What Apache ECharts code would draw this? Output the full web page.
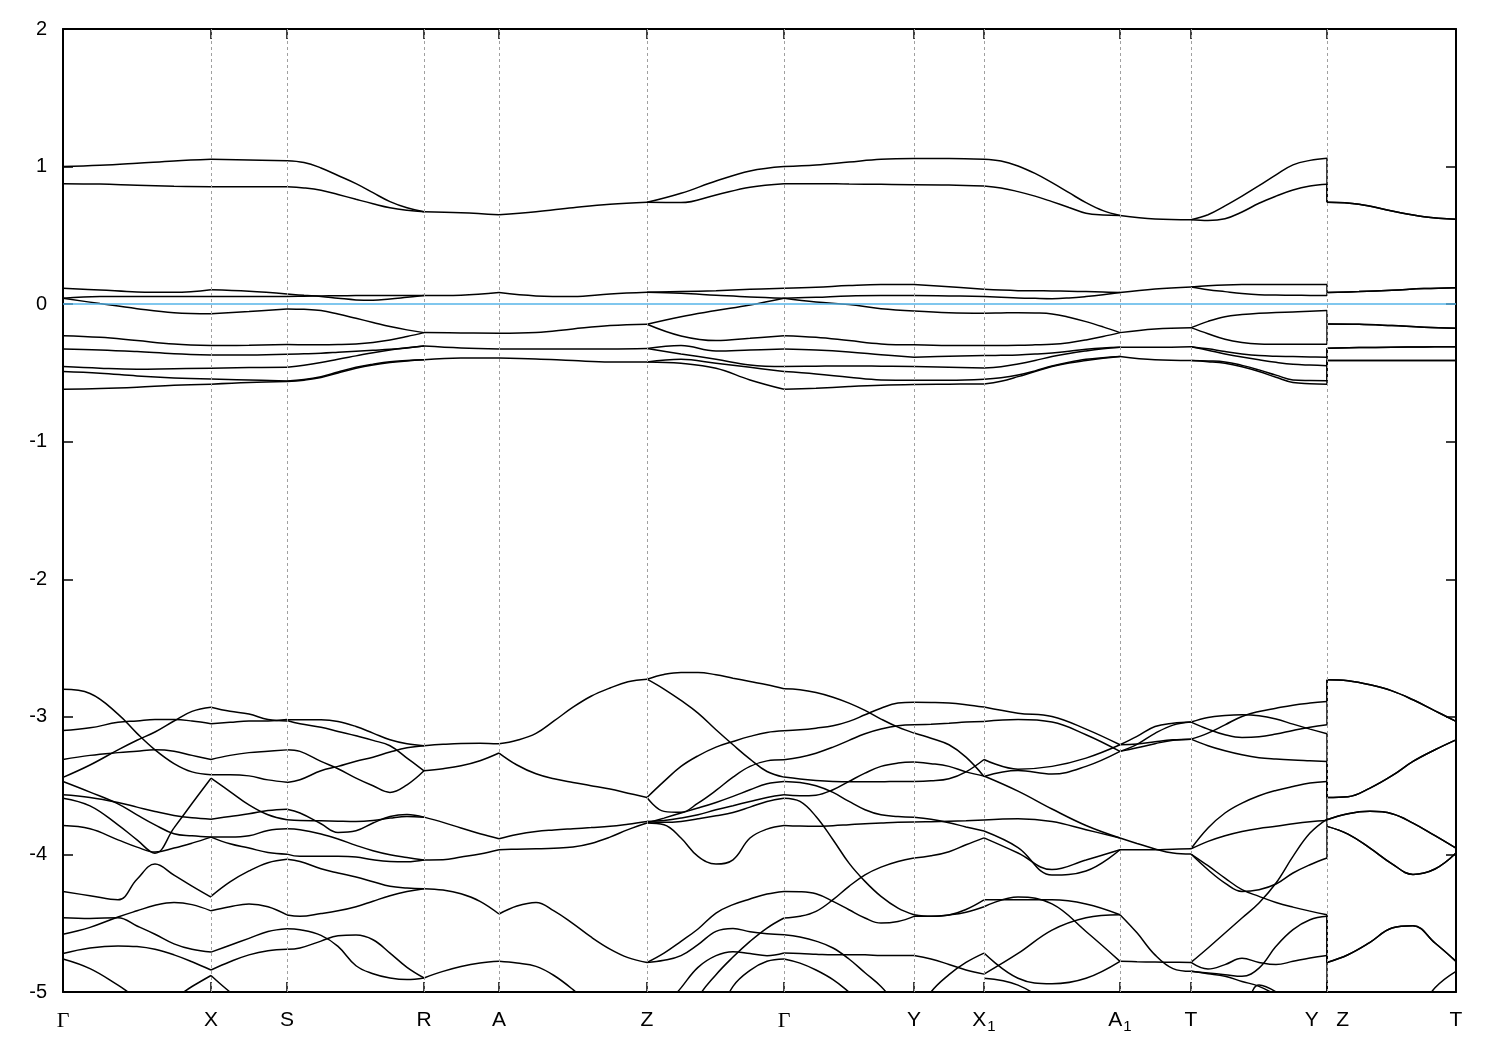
<!DOCTYPE html>
<html><head><meta charset="utf-8">
<script src="https://cdn.jsdelivr.net/npm/echarts@6/dist/echarts.min.js"></script>
<style>html,body{margin:0;padding:0;background:#fff}#c{width:1500px;height:1050px}</style>
</head><body><div id="c"></div>
<script>
// high-symmetry points (k-path distance, arbitrary units)
const tickK = [0,148,224,361,436,584,721,851,921,1057,1128,1264,1393];
const tickText = ['{g|Γ}','{m|X}','{m|S}','{m|R}','{m|A}','{m|Z}','{g|Γ}','{m|Y}','{m|X}{s|1}','{m|A}{s|1}','{m|T}','{m|Y   Z}','{m|T}'];

// ---------- upper bands (conduction + near Fermi level) ----------
const K_GX=[0,37,74,111,148];
const UP_GX=[[1.0,1.009,1.024,1.041,1.053],[0.876,0.873,0.864,0.857,0.854],[0.115,0.103,0.089,0.086,0.105],[0.043,0.055,0.055,0.055,0.055],[0.043,0.004,-0.033,-0.062,-0.069],[-0.229,-0.241,-0.265,-0.289,-0.301],[-0.326,-0.333,-0.345,-0.36,-0.369],[-0.454,-0.466,-0.473,-0.469,-0.466],[-0.49,-0.502,-0.522,-0.536,-0.544],[-0.619,-0.614,-0.604,-0.59,-0.582]];
const K_XS=[148,186,224];
const UP_XS=[[1.053,1.048,1.043],[0.854,0.854,0.854],[0.105,0.094,0.074],[0.055,0.055,0.055],[-0.069,-0.054,-0.035],[-0.301,-0.299,-0.294],[-0.369,-0.369,-0.364],[-0.466,-0.461,-0.459],[-0.544,-0.551,-0.558],[-0.582,-0.57,-0.563]];
const K_SR=[224,241,258,275,293,310,327,344,361];
const UP_SR=[[1.043,1.03,0.99,0.935,0.876,0.81,0.745,0.70,0.672],[0.854,0.845,0.828,0.797,0.762,0.73,0.701,0.683,0.672],[0.074,0.064,0.055,0.043,0.031,0.028,0.038,0.05,0.062],[0.055,0.058,0.06,0.061,0.062,0.062,0.062,0.062,0.062],[-0.035,-0.038,-0.047,-0.072,-0.103,-0.133,-0.163,-0.187,-0.207],[-0.294,-0.295,-0.296,-0.294,-0.289,-0.278,-0.26,-0.235,-0.207],[-0.364,-0.361,-0.357,-0.35,-0.342,-0.335,-0.328,-0.318,-0.304],[-0.459,-0.445,-0.425,-0.4,-0.376,-0.353,-0.333,-0.317,-0.304],[-0.558,-0.548,-0.527,-0.493,-0.459,-0.436,-0.418,-0.41,-0.405],[-0.563,-0.553,-0.534,-0.5,-0.466,-0.442,-0.425,-0.413,-0.405]];
const K_RA=[361,398,436];
const UP_RA=[[0.672,0.665,0.65],[0.062,0.065,0.084],[-0.207,-0.209,-0.212],[-0.304,-0.318,-0.326],[-0.405,-0.391,-0.391]];
const K_AZ=[436,473,510,547,584];
const UP_AZ=[[0.65,0.672,0.701,0.726,0.74],[0.084,0.06,0.055,0.074,0.086],[-0.212,-0.207,-0.18,-0.156,-0.146],[-0.326,-0.326,-0.326,-0.326,-0.323],[-0.391,-0.398,-0.41,-0.42,-0.42]];
const K_ZG=[584,618,653,687,721];
const UP_ZG=[[0.74,0.806,0.895,0.968,1.0],[0.74,0.738,0.794,0.85,0.876],[0.086,0.091,0.098,0.108,0.115],[0.086,0.079,0.065,0.052,0.043],[-0.146,-0.091,-0.047,-0.006,0.043],[-0.146,-0.231,-0.265,-0.248,-0.229],[-0.323,-0.301,-0.34,-0.333,-0.326],[-0.323,-0.362,-0.401,-0.442,-0.454],[-0.42,-0.401,-0.43,-0.459,-0.49],[-0.42,-0.43,-0.466,-0.551,-0.619]];
const K_GY=[721,753,786,818,851];
const UP_GY=[[1.0,1.012,1.033,1.053,1.058],[0.876,0.876,0.873,0.871,0.868],[0.115,0.123,0.135,0.142,0.142],[0.043,0.05,0.06,0.062,0.062],[0.043,0.016,-0.003,-0.033,-0.049],[-0.229,-0.241,-0.265,-0.289,-0.296],[-0.326,-0.333,-0.347,-0.367,-0.386],[-0.454,-0.451,-0.449,-0.451,-0.454],[-0.49,-0.507,-0.531,-0.551,-0.553],[-0.619,-0.611,-0.599,-0.59,-0.585]];
const K_YX1=[851,886,921];
const UP_YX1=[[1.058,1.058,1.053],[0.868,0.866,0.859],[0.142,0.127,0.108],[0.062,0.06,0.055],[-0.049,-0.062,-0.066],[-0.296,-0.301,-0.301],[-0.386,-0.379,-0.374],[-0.454,-0.459,-0.464],[-0.553,-0.553,-0.546],[-0.585,-0.582,-0.58]];
const K_X1A1=[921,938,955,972,989,1006,1023,1040,1057];
const UP_X1A1=[[1.053,1.04,1.004,0.95,0.883,0.81,0.738,0.68,0.645],[0.859,0.845,0.818,0.785,0.745,0.703,0.661,0.648,0.645],[0.108,0.102,0.098,0.097,0.096,0.094,0.091,0.088,0.084],[0.055,0.05,0.045,0.042,0.04,0.045,0.055,0.068,0.084],[-0.066,-0.064,-0.062,-0.064,-0.071,-0.095,-0.127,-0.165,-0.207],[-0.301,-0.3,-0.299,-0.296,-0.292,-0.28,-0.26,-0.235,-0.207],[-0.374,-0.372,-0.369,-0.363,-0.355,-0.343,-0.328,-0.318,-0.313],[-0.464,-0.455,-0.435,-0.41,-0.381,-0.358,-0.34,-0.325,-0.313],[-0.546,-0.535,-0.515,-0.485,-0.449,-0.422,-0.401,-0.389,-0.381],[-0.58,-0.56,-0.527,-0.49,-0.454,-0.428,-0.41,-0.394,-0.381]];
const K_A1T=[1057,1092,1128];
const UP_A1T=[[0.645,0.619,0.614],[0.084,0.11,0.125],[-0.207,-0.18,-0.171],[-0.313,-0.313,-0.309],[-0.381,-0.405,-0.41]];
const K_TY=[1128,1145,1162,1179,1196,1213,1230,1247,1264];
const UP_TY=[[0.614,0.65,0.714,0.785,0.861,0.94,1.012,1.045,1.06],[0.614,0.608,0.621,0.67,0.733,0.785,0.83,0.858,0.871],[0.125,0.134,0.14,0.142,0.142,0.142,0.142,0.142,0.142],[0.125,0.105,0.091,0.078,0.069,0.066,0.065,0.063,0.062],[-0.171,-0.125,-0.091,-0.076,-0.066,-0.06,-0.057,-0.052,-0.047],[-0.171,-0.215,-0.255,-0.278,-0.289,-0.291,-0.292,-0.292,-0.292],[-0.309,-0.325,-0.345,-0.362,-0.374,-0.379,-0.381,-0.384,-0.386],[-0.309,-0.335,-0.362,-0.385,-0.405,-0.423,-0.437,-0.443,-0.447],[-0.41,-0.413,-0.42,-0.445,-0.478,-0.516,-0.551,-0.555,-0.556],[-0.41,-0.418,-0.43,-0.455,-0.49,-0.532,-0.57,-0.578,-0.582]];
const K_ZT=[1264,1296,1329,1361,1393];
const UP_ZT=[[0.74,0.726,0.677,0.636,0.617],[0.74,0.726,0.677,0.636,0.617],[0.084,0.091,0.101,0.113,0.12],[0.084,0.091,0.101,0.113,0.12],[-0.144,-0.146,-0.156,-0.168,-0.175],[-0.144,-0.146,-0.156,-0.168,-0.175],[-0.32,-0.316,-0.313,-0.311,-0.309],[-0.32,-0.316,-0.313,-0.311,-0.309],[-0.41,-0.41,-0.41,-0.41,-0.41],[-0.41,-0.41,-0.41,-0.41,-0.41]];

// ---------- lower bands ----------
const KL_GX=[0,27,55,74,92,111,129,148];
const LO_GX=[[-2.80,-2.83,-2.98,-3.12,-3.24,-3.34,-3.40,-3.42],[-3.10,-3.08,-3.04,-3.03,-3.02,-3.02,-3.03,-3.05],[-3.44,-3.35,-3.24,-3.17,-3.11,-3.03,-2.96,-2.93],[-3.31,-3.28,-3.26,-3.25,-3.24,-3.25,-3.28,-3.31],[-3.47,-3.547,-3.632,-3.712,-3.785,-3.85,-3.865,-3.874],[-3.567,-3.586,-3.622,-3.656,-3.688,-3.717,-3.734,-3.744],[-3.591,-3.647,-3.785,-3.894,-3.991,-3.807,-3.63,-3.446],[-3.79,-3.814,-3.894,-3.947,-3.983,-3.954,-3.918,-3.874],[-4.27,-4.30,-4.33,-4.18,-4.07,-4.15,-4.23,-4.31],[-4.46,-4.465,-4.46,-4.52,-4.58,-4.65,-4.69,-4.71],[-4.58,-4.53,-4.455,-4.41,-4.37,-4.35,-4.365,-4.41],[-4.72,-4.68,-4.665,-4.67,-4.69,-4.73,-4.78,-4.84],[-4.76,-4.83,-4.95,-5.04,-5.08,-5.04,-4.96,-4.88]];
const KL_XS=[148,167,186,205,224];
const LO_XS=[[-3.42,-3.42,-3.429,-3.458,-3.475],[-3.05,-3.04,-3.03,-3.03,-3.02],[-2.93,-2.96,-2.98,-3.02,-3.03],[-3.31,-3.28,-3.26,-3.25,-3.24],[-3.874,-3.874,-3.865,-3.826,-3.814],[-3.744,-3.724,-3.705,-3.681,-3.671],[-3.446,-3.543,-3.64,-3.712,-3.748],[-3.874,-3.923,-3.954,-3.986,-3.998],[-4.305,-4.2,-4.12,-4.06,-4.035],[-4.71,-4.66,-4.61,-4.56,-4.54],[-4.41,-4.38,-4.36,-4.38,-4.44],[-4.84,-4.78,-4.73,-4.70,-4.69],[-4.88,-5.0,-5.1,-5.15,-5.2]];
const KL_SR=[224,237,258,275,293,310,327,344,361];
const LO_SR=[[-3.477,-3.457,-3.392,-3.360,-3.322,-3.293,-3.256,-3.225,-3.210],[-3.021,-3.021,-3.021,-3.033,-3.070,-3.118,-3.167,-3.196,-3.210],[-3.026,-3.050,-3.075,-3.106,-3.138,-3.171,-3.210,-3.300,-3.392],[-3.239,-3.251,-3.324,-3.377,-3.445,-3.501,-3.549,-3.494,-3.392],[-3.671,-3.699,-3.777,-3.840,-3.828,-3.772,-3.724,-3.709,-3.729],[-3.748,-3.753,-3.755,-3.758,-3.760,-3.753,-3.736,-3.724,-3.729],[-3.814,-3.821,-3.852,-3.888,-3.934,-3.973,-4.002,-4.022,-4.04],[-3.998,-4.014,-4.014,-4.014,-4.019,-4.039,-4.051,-4.053,-4.04],[-4.035,-4.051,-4.104,-4.135,-4.164,-4.198,-4.232,-4.244,-4.249],[-4.44,-4.45,-4.43,-4.41,-4.38,-4.34,-4.30,-4.27,-4.249],[-4.54,-4.547,-4.588,-4.668,-4.809,-4.867,-4.898,-4.910,-4.898],[-4.69,-4.680,-4.630,-4.591,-4.586,-4.620,-4.717,-4.821,-4.898]];
const KL_RA=[361,380,398,417,436];
const LO_RA=[[-3.210,-3.200,-3.193,-3.191,-3.196],[-3.392,-3.377,-3.356,-3.319,-3.263],[-3.729,-3.767,-3.808,-3.850,-3.886],[-4.04,-4.039,-4.019,-3.997,-3.966],[-4.249,-4.259,-4.286,-4.341,-4.433],[-4.898,-4.850,-4.814,-4.789,-4.777]];
const KL_AZ=[436,454,473,491,510,528,547,565,584];
const LO_AZ=[[-3.196,-3.17,-3.12,-3.03,-2.93,-2.85,-2.79,-2.745,-2.726],[-3.263,-3.35,-3.414,-3.45,-3.477,-3.50,-3.525,-3.555,-3.586],[-3.886,-3.855,-3.833,-3.822,-3.813,-3.805,-3.796,-3.78,-3.76],[-3.966,-3.962,-3.959,-3.955,-3.946,-3.92,-3.874,-3.82,-3.772],[-4.433,-4.375,-4.349,-4.41,-4.503,-4.60,-4.688,-4.75,-4.785],[-4.777,-4.79,-4.814,-4.88,-4.983,-5.1,-5.3,-5.4,-5.5]];
const KL_ZG=[584,601,618,635,653,670,687,704,721];
const LO_ZG=[[-2.726,-2.692,-2.677,-2.677,-2.694,-2.719,-2.743,-2.767,-2.796],[-2.726,-2.798,-2.881,-2.973,-3.094,-3.203,-3.307,-3.397,-3.438],[-3.586,-3.469,-3.360,-3.283,-3.220,-3.179,-3.142,-3.113,-3.101],[-3.586,-3.687,-3.694,-3.627,-3.535,-3.438,-3.360,-3.320,-3.312],[-3.772,-3.736,-3.699,-3.663,-3.622,-3.578,-3.530,-3.486,-3.469],[-3.760,-3.753,-3.736,-3.712,-3.675,-3.646,-3.615,-3.586,-3.567],[-3.760,-3.767,-3.760,-3.741,-3.719,-3.695,-3.656,-3.615,-3.591],[-3.772,-3.784,-3.881,-4.014,-4.070,-4.039,-3.881,-3.816,-3.789],[-4.785,-4.717,-4.632,-4.542,-4.426,-4.365,-4.324,-4.288,-4.269],[-4.785,-4.770,-4.736,-4.656,-4.559,-4.538,-4.562,-4.576,-4.583],[-5.35,-5.12,-4.97,-4.821,-4.736,-4.707,-4.721,-4.736,-4.717],[-5.5,-5.5,-5.3,-5.04,-4.874,-4.746,-4.632,-4.535,-4.462],[-5.6,-5.6,-5.5,-5.35,-5.2,-4.959,-4.843,-4.777,-4.76]];
const KL_GY=[721,737,753,770,786,802,818,835,851];
const LO_GY=[[-2.796,-2.803,-2.823,-2.857,-2.900,-2.953,-3.016,-3.075,-3.118],[-3.101,-3.094,-3.082,-3.065,-3.033,-2.985,-2.937,-2.900,-2.893],[-3.312,-3.293,-3.264,-3.220,-3.171,-3.123,-3.089,-3.065,-3.058],[-3.438,-3.452,-3.462,-3.469,-3.472,-3.472,-3.472,-3.469,-3.469],[-3.469,-3.477,-3.501,-3.549,-3.615,-3.675,-3.712,-3.724,-3.729],[-3.567,-3.574,-3.569,-3.530,-3.469,-3.409,-3.360,-3.336,-3.329],[-3.591,-3.615,-3.724,-3.893,-4.063,-4.196,-4.305,-4.390,-4.438],[-3.789,-3.794,-3.796,-3.791,-3.784,-3.777,-3.772,-3.767,-3.765],[-4.269,-4.271,-4.286,-4.341,-4.402,-4.462,-4.499,-4.487,-4.450],[-4.462,-4.450,-4.414,-4.329,-4.232,-4.148,-4.092,-4.051,-4.026],[-4.583,-4.60,-4.63,-4.68,-4.76,-4.86,-4.96,-5.1,-5.2],[-4.717,-4.72,-4.725,-4.73,-4.73,-4.73,-4.735,-4.735,-4.735],[-4.76,-4.79,-4.84,-4.91,-5.0,-5.1,-5.2,-5.3,-5.4]];
const KL_YX1=[851,868,886,903,921];
const LO_YX1=[[-3.118,-3.155,-3.203,-3.293,-3.433],[-2.893,-2.895,-2.900,-2.912,-2.929],[-3.058,-3.053,-3.046,-3.038,-3.033],[-3.469,-3.465,-3.45,-3.40,-3.31],[-3.329,-3.34,-3.36,-3.40,-3.43],[-3.729,-3.745,-3.77,-3.80,-3.83],[-3.765,-3.762,-3.758,-3.755,-3.75],[-4.438,-4.45,-4.44,-4.42,-4.38],[-4.45,-4.45,-4.44,-4.4,-4.33],[-4.026,-4.01,-3.98,-3.93,-3.88],[-4.735,-4.76,-4.8,-4.84,-4.87],[-5.2,-5.0,-4.874,-4.785,-4.717]];
const KL_X1A1=[921,955,989,1023,1057];
const LO_X1A1=[[-2.929,-2.973,-2.997,-3.089,-3.203],[-3.033,-3.02,-3.038,-3.130,-3.251],[-3.433,-3.39,-3.416,-3.360,-3.251],[-3.31,-3.38,-3.36,-3.30,-3.203],[-3.43,-3.54,-3.67,-3.79,-3.881],[-3.75,-3.74,-3.76,-3.82,-3.881],[-3.83,-3.95,-4.15,-4.12,-3.966],[-3.88,-3.99,-4.11,-4.04,-3.966],[-4.38,-4.31,-4.36,-4.56,-4.777],[-4.33,-4.33,-4.33,-4.36,-4.438],[-4.87,-4.72,-4.55,-4.46,-4.438],[-4.717,-4.90,-4.94,-4.90,-4.777],[-4.9,-4.95,-5.1,-5.3,-5.4]];
const KL_A1T=[1057,1074,1092,1110,1128];
const LO_A1T=[[-3.203,-3.198,-3.181,-3.167,-3.162],[-3.203,-3.142,-3.070,-3.046,-3.038],[-3.251,-3.20,-3.12,-3.06,-3.038],[-3.251,-3.225,-3.195,-3.17,-3.162],[-3.881,-3.92,-3.96,-3.99,-3.997],[-3.966,-3.966,-3.966,-3.962,-3.959],[-4.438,-4.57,-4.73,-4.83,-4.85],[-4.777,-4.78,-4.782,-4.784,-4.785]];
const KL_TY=[1128,1145,1162,1179,1196,1213,1230,1247,1264];
const LO_TY=[[-3.038,-3.004,-2.990,-2.985,-2.992,-3.016,-3.053,-3.089,-3.123],[-3.038,-3.089,-3.130,-3.150,-3.145,-3.125,-3.099,-3.075,-3.058],[-3.162,-3.118,-3.058,-2.997,-2.961,-2.937,-2.915,-2.900,-2.888],[-3.162,-3.210,-3.247,-3.276,-3.297,-3.307,-3.314,-3.319,-3.324],[-3.959,-3.808,-3.699,-3.627,-3.573,-3.535,-3.506,-3.481,-3.469],[-3.959,-3.905,-3.864,-3.833,-3.811,-3.796,-3.777,-3.762,-3.753],[-3.997,-4.082,-4.172,-4.256,-4.305,-4.349,-4.383,-4.412,-4.438],[-3.997,-4.111,-4.208,-4.269,-4.256,-4.215,-4.135,-4.075,-4.026],[-4.785,-4.680,-4.571,-4.462,-4.353,-4.208,-4.014,-3.845,-3.743],[-4.785,-4.833,-4.801,-4.755,-4.785,-4.801,-4.777,-4.753,-4.734],[-4.850,-4.862,-4.874,-4.886,-4.826,-4.668,-4.547,-4.475,-4.450],[-4.850,-4.867,-4.886,-4.923,-4.959,-5.02,-5.08,-5.13,-5.18],[-5.3,-5.3,-5.3,-5.2,-4.95,-5.0,-5.1,-5.2,-5.3]];
const KL_ZT=[1264,1285,1307,1329,1350,1372,1393];
const LO_ZT=[[-2.731,-2.738,-2.767,-2.811,-2.876,-2.956,-3.033],[-2.731,-2.738,-2.767,-2.811,-2.876,-2.956,-3.033],[-3.586,-3.581,-3.518,-3.428,-3.324,-3.239,-3.167],[-3.586,-3.581,-3.518,-3.428,-3.324,-3.239,-3.167],[-3.748,-3.704,-3.687,-3.704,-3.772,-3.864,-3.954],[-3.748,-3.704,-3.687,-3.704,-3.772,-3.864,-3.954],[-3.796,-3.852,-3.954,-4.068,-4.145,-4.106,-3.990],[-3.796,-3.852,-3.954,-4.068,-4.145,-4.106,-3.990],[-4.785,-4.729,-4.639,-4.535,-4.518,-4.644,-4.777],[-4.785,-4.729,-4.639,-4.535,-4.518,-4.644,-4.777],[-5.5,-5.5,-5.5,-5.4,-5.2,-4.97,-4.85],[-5.5,-5.5,-5.5,-5.5,-5.5,-5.5,-5.5],[-5.5,-5.5,-5.5,-5.5,-5.5,-5.5,-5.5]];

const segments=[[K_GX,UP_GX],[K_XS,UP_XS],[K_SR,UP_SR],[K_RA,UP_RA],[K_AZ,UP_AZ],[K_ZG,UP_ZG],[K_GY,UP_GY],[K_YX1,UP_YX1],[K_X1A1,UP_X1A1],[K_A1T,UP_A1T],[K_TY,UP_TY],[K_ZT,UP_ZT],
 [KL_GX,LO_GX],[KL_XS,LO_XS],[KL_SR,LO_SR],[KL_RA,LO_RA],[KL_AZ,LO_AZ],[KL_ZG,LO_ZG],[KL_GY,LO_GY],[KL_YX1,LO_YX1],[KL_X1A1,LO_X1A1],[KL_A1T,LO_A1T],[KL_TY,LO_TY],[KL_ZT,LO_ZT]];

const BAND = {color:'#000', width:1.5};
const series=[];
series.push({type:'line', data:[], silent:true, z:1,
  markLine:{silent:true, symbol:['none','none'], animation:false, label:{show:false},
    lineStyle:{type:[3,3], color:'#a0a0a0', width:1},
    data: tickK.slice(1,-1).map(k=>({xAxis:k}))}});
segments.forEach(([k,bands])=>{
  bands.forEach(b=>{
    series.push({type:'line', data:k.map((x,i)=>[x,b[i]]), smooth:0.4,
      symbol:'none', showSymbol:false, silent:true, lineStyle:BAND, z:3, clip:true});
  });
});
// vertical band connections at the Y|Z break
const yEnd = UP_TY.concat(LO_TY).map(b=>b[b.length-1]).sort((a,b)=>b-a);
const zStart = UP_ZT.concat(LO_ZT).map(b=>b[0]).sort((a,b)=>b-a);
yEnd.forEach((v,i)=>{
  series.push({type:'line', data:[[tickK[11],v],[tickK[11],zStart[i]]], symbol:'none', showSymbol:false,
    silent:true, lineStyle:BAND, z:3, clip:true});
});
series.push({type:'line', data:[], silent:true, z:5,
  markLine:{silent:true, symbol:['none','none'], animation:false, label:{show:false},
    lineStyle:{type:'solid', color:'#56b4e9', width:1.5}, data:[{yAxis:0}]}});

const axisLineStyle={show:true, onZero:false, lineStyle:{color:'#000', width:2}};
const tickStyle={show:true, inside:true, length:10, lineStyle:{color:'#000', width:1.5}};
const chart=echarts.init(document.getElementById('c'), null, {renderer:'canvas'});
chart.setOption({
  animation:false,
  backgroundColor:'#fff',
  grid:{left:63, right:44, top:29, bottom:58, containLabel:false},
  xAxis:[
    {type:'value', min:0, max:1393, position:'bottom', axisLine:axisLineStyle,
     axisTick:Object.assign({customValues:tickK}, tickStyle), splitLine:{show:false},
     axisLabel:{customValues:tickK, margin:18, color:'#000', fontSize:20, fontFamily:'Liberation Sans',
       formatter:(v)=>{const i=tickK.indexOf(v); return i>=0?tickText[i]:'';},
       rich:{
         m:{fontSize:21, fontFamily:'Liberation Sans', color:'#000', verticalAlign:'top', lineHeight:22},
         g:{fontSize:22, fontFamily:'Liberation Serif', color:'#000', verticalAlign:'top', lineHeight:22},
         s:{fontSize:15, fontFamily:'Liberation Sans', color:'#000', verticalAlign:'top', padding:[9,0,0,1], lineHeight:16}
       }}},
    {type:'value', min:0, max:1393, position:'top', axisLine:axisLineStyle,
     axisTick:Object.assign({customValues:tickK}, tickStyle), axisLabel:{show:false}, splitLine:{show:false}}
  ],
  yAxis:[
    {type:'value', min:-5, max:2, interval:1, position:'left', axisLine:axisLineStyle, axisTick:tickStyle,
     splitLine:{show:false}, axisLabel:{color:'#000', fontSize:20, fontFamily:'Liberation Sans', margin:16}},
    {type:'value', min:-5, max:2, interval:1, position:'right', axisLine:axisLineStyle, axisTick:tickStyle,
     splitLine:{show:false}, axisLabel:{show:false}}
  ],
  series:series
});
</script></body></html>
